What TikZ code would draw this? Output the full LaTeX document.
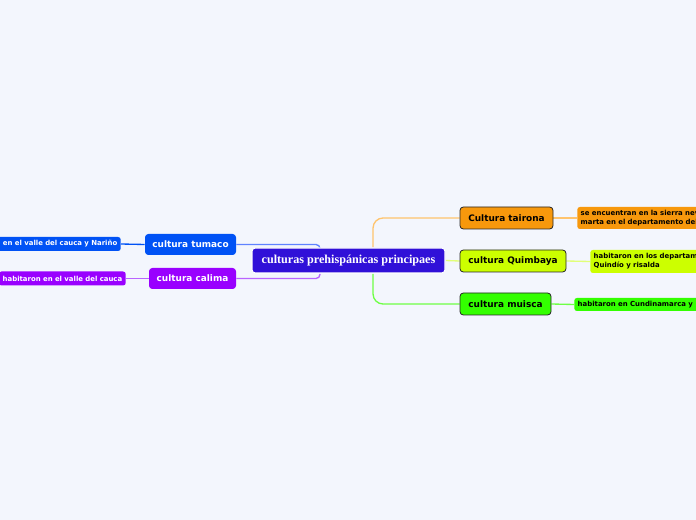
\documentclass[tikz,border=0pt]{standalone}
\usepackage{fontspec}
\setsansfont{DejaVu Sans}
\newfontfamily\serifb{Liberation Serif}
\definecolor{bgc}{RGB}{243,246,253}
\definecolor{cblue}{RGB}{48,16,216}
\definecolor{corange}{RGB}{247,152,12}
\definecolor{cyell}{RGB}{204,255,0}
\definecolor{cgreen}{RGB}{51,255,0}
\definecolor{ctum}{RGB}{0,82,245}
\definecolor{ccal}{RGB}{153,0,255}
\definecolor{lorange}{RGB}{255,196,110}
\definecolor{lyell}{RGB}{225,255,120}
\definecolor{lgreen}{RGB}{110,255,70}
\definecolor{ltum}{RGB}{95,130,255}
\definecolor{lcal}{RGB}{185,100,255}
\pgfdeclarelayer{bg}
\pgfsetlayers{bg,main}
\tikzset{
  central/.style={fill=cblue, draw=white, line width=0.8pt, rounded corners=2.5pt,
    minimum width=144.75pt, minimum height=18.75pt, inner sep=0pt, text=white,
    font=\serifb\bfseries\fontsize{9.1}{10}\selectfont},
  mainbox/.style={draw=black!85, line width=0.6pt, rounded corners=2.5pt,
    minimum height=16.5pt, inner sep=0pt, text=black,
    font=\sffamily\bfseries\fontsize{6.7}{8}\selectfont},
  leftbox/.style={rounded corners=2.5pt, minimum height=15.75pt, inner sep=0pt,
    text=white, font=\sffamily\bfseries\fontsize{6.7}{8}\selectfont},
  rchild/.style={anchor=west, rounded corners=2pt, inner xsep=2.6pt, inner ysep=0pt,
    text width=120pt, align=left, text=black,
    font=\sffamily\bfseries\fontsize{5.2}{6.75}\selectfont},
  lchild/.style={anchor=east, rounded corners=2pt, inner xsep=2.6pt, inner ysep=0pt,
    text width=90pt, align=right, text=white, minimum height=10.5pt,
    font=\sffamily\bfseries\fontsize{5.2}{6.75}\selectfont},
  conn/.style={line width=1pt},
}
\begin{document}
\begin{tikzpicture}[x=0.75pt,y=-0.75pt]
\useasboundingbox (0,0) rectangle (696,520);
\clip (0,0) rectangle (696,520);
% nodes
\node[central] (c) at (348.5,260.5) {culturas prehispánicas principaes};
\node[mainbox, fill=corange, minimum width=69.75pt] (tai) at (506.5,218) {Cultura tairona};
\node[mainbox, fill=cyell, minimum width=79.5pt] (qui) at (513,261) {cultura Quimbaya};
\node[mainbox, fill=cgreen, minimum width=68.25pt] (mui) at (505.5,304) {cultura muisca};
\node[leftbox, fill=ctum, minimum width=68.25pt] (tum) at (190.5,244.5) {cultura tumaco};
\node[leftbox, fill=ccal, minimum width=65.25pt] (cal) at (192.5,278.5) {cultura calima};
\node[rchild, fill=corange, minimum height=16.5pt] (taic) at (577,218) {se encuentran en la sierra nev\\marta en el departamento del};
\node[rchild, fill=cyell, minimum height=17.25pt] (quic) at (590,261.5) {habitaron en los departam\\Quindío y risalda};
\node[rchild, fill=cgreen, minimum height=9.75pt] (muic) at (574,304.5) {habitaron en Cundinamarca y};
\node[lchild, fill=ctum] (tumc) at (121,244) {en el valle del cauca y Nariño};
\node[lchild, fill=ccal] (calc) at (126,278.5) {habitaron en el valle del cauca};
% background and connectors
\begin{pgfonlayer}{bg}
\fill[bgc] (0,0) rectangle (696,520);
\draw[conn, lorange, rounded corners=7.5pt] ([xshift=18.4pt]c.north) |- (tai.west);
\draw[conn, lgreen, rounded corners=7.5pt] ([xshift=18.4pt]c.south) |- (mui.west);
\draw[conn, lyell] (c.east) -- (qui.west);
\draw[conn, ltum, rounded corners=3pt] (tum.east) -| ([xshift=-21.4pt]c.north);
\draw[conn, lcal, rounded corners=3pt] (cal.east) -| ([xshift=-21.4pt]c.south);
\draw[conn, lorange] (tai.east) -- (taic.west);
\draw[conn, lyell] (qui.east) -- (quic.west);
\draw[conn, lgreen] (mui.east) -- (muic.west);
\draw[conn, ctum] (tum.west) -- (tumc.east);
\draw[conn, lcal] (cal.west) -- (calc.east);
\end{pgfonlayer}
\end{tikzpicture}
\end{document}
